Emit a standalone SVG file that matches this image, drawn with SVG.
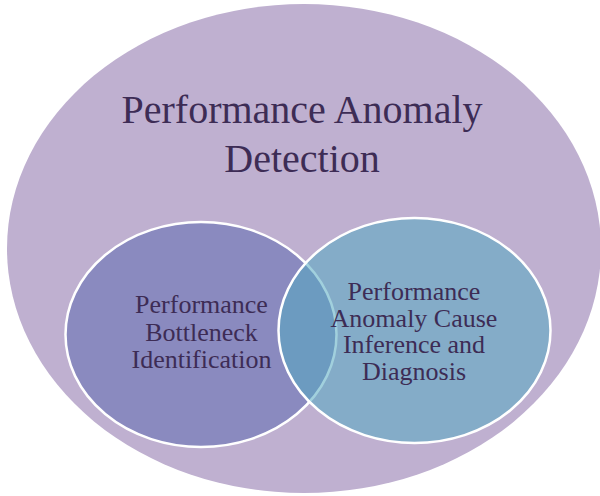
<svg xmlns="http://www.w3.org/2000/svg" width="600" height="496" viewBox="0 0 600 496">
<style>
text{font-family:'Liberation Serif','Times New Roman',serif;fill:#3D2C55;text-anchor:middle}
.t{font-size:40px}
.s{font-size:26px}
</style>
<rect width="600" height="496" fill="#FFFFFF"/>
<g id="outer">
<ellipse cx="304" cy="248.5" rx="297" ry="244.5" fill="#BFB0D0"/>
<text class="t" x="302" y="123">Performance Anomaly</text>
<text class="t" x="302" y="172">Detection</text>
</g>
<g id="left">
<ellipse cx="201" cy="334.5" rx="135.5" ry="112.5" fill="#8A8ABF" stroke="#FFFFFF" stroke-width="2.5"/>
<text class="s" x="201.5" y="313.3">Performance</text>
<text class="s" x="201.5" y="341">Bottleneck</text>
<text class="s" x="201.5" y="368.3">Identification</text>
</g>
<g id="right">
<ellipse cx="414.5" cy="330.5" rx="136" ry="112.5" fill="#54AAC1" fill-opacity="0.55" stroke="#FFFFFF" stroke-width="2.5"/>
<text class="s" x="414" y="300">Performance</text>
<text class="s" x="414" y="326.7">Anomaly Cause</text>
<text class="s" x="414" y="353.3">Inference and</text>
<text class="s" x="414" y="380">Diagnosis</text>
</g>
<g id="connectors"/>
</svg>
